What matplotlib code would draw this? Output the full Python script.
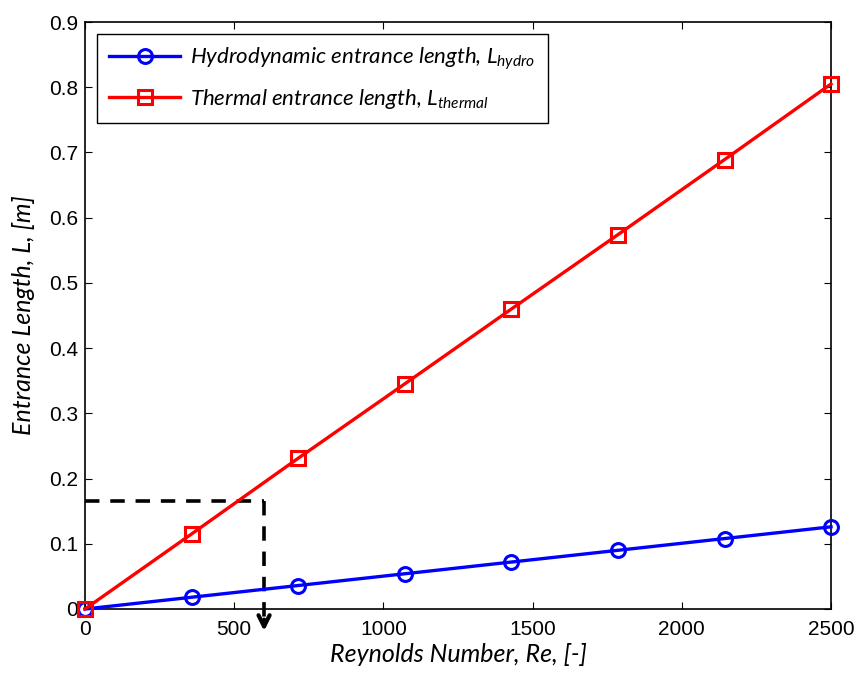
import matplotlib
matplotlib.use("Agg")
import matplotlib.pyplot as plt

reynolds = [0, 357, 714, 1071, 1429, 1786, 2143, 2500]
l_hydro = [0, 0.018, 0.036, 0.054, 0.072, 0.090, 0.108, 0.126]
l_thermal = [0, 0.115, 0.231, 0.345, 0.460, 0.574, 0.689, 0.805]
guide_x = 600
guide_y = 0.165
xticks = [0, 500, 1000, 1500, 2000, 2500]
yticks = [0, 0.1, 0.2, 0.3, 0.4, 0.5, 0.6, 0.7, 0.8, 0.9]

plt.rcParams['mathtext.fontset'] = 'custom'
plt.rcParams['mathtext.it'] = 'Lato:italic'
plt.rcParams['mathtext.rm'] = 'Lato:italic'

fig = plt.figure(figsize=(8.57, 6.73), dpi=100)
ax = fig.add_axes([0.0992, 0.0951, 0.8705, 0.8722])

ax.plot(reynolds, l_hydro, '-o', color='#0000ff', lw=2.4, ms=10, mfc='none', mew=2.2,
        label=r'Hydrodynamic entrance length, $L_{hydro}$', clip_on=False, zorder=3)
ax.plot(reynolds, l_thermal, '-s', color='#ff0000', lw=2.4, ms=10, mfc='none', mew=2.2,
        label=r'Thermal entrance length, $L_{thermal}$', clip_on=False, zorder=3)

ax.plot([0, guide_x], [guide_y, guide_y], '--', color='k', lw=2.6, dashes=(4, 3))
ax.plot([guide_x, guide_x], [guide_y, -0.012], '--', color='k', lw=2.6, dashes=(4, 3), clip_on=False)
ax.annotate('', xy=(guide_x, -0.038), xytext=(guide_x, -0.012),
            arrowprops=dict(arrowstyle='->', lw=3, color='k', mutation_scale=20),
            annotation_clip=False)

ax.set_xlim(0, 2500)
ax.set_ylim(0, 0.9)
ax.set_xticks(xticks)
ax.set_yticks(yticks)
ax.set_xticklabels([str(t) for t in xticks])
ax.set_yticklabels(['0'] + [f'{t:.1f}' for t in yticks[1:]])
ax.tick_params(direction='in', top=True, right=True, labelsize=15, length=5, width=0.8)
ax.tick_params(axis='x', pad=8)
ax.tick_params(axis='y', pad=5)
for lab in ax.get_xticklabels() + ax.get_yticklabels():
    lab.set_fontfamily('Liberation Sans')
for s in ax.spines.values():
    s.set_linewidth(1.2)

ax.set_xlabel('Reynolds Number, Re, [-]', fontsize=18, fontstyle='italic', family='Lato', labelpad=3)
ax.set_ylabel('Entrance Length, L, [m]', fontsize=18, fontstyle='italic', family='Lato', labelpad=10)

leg = ax.legend(loc='upper left', bbox_to_anchor=(0.016, 0.98), borderaxespad=0, fancybox=False,
                framealpha=1, edgecolor='k', prop={'family': 'Lato', 'style': 'italic', 'size': 16},
                handlelength=3.2, handletextpad=0.45, borderpad=0.55, labelspacing=0.65)
leg.get_frame().set_linewidth(1.0)

fig.savefig('out.png', dpi=100)
